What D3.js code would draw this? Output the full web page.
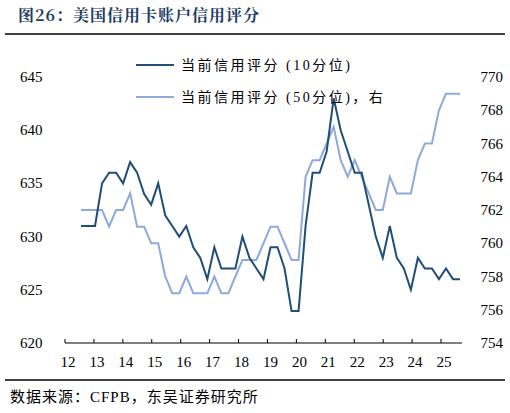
<!DOCTYPE html>
<html><head><meta charset="utf-8">
<script src="https://cdn.jsdelivr.net/npm/d3@7"></script>
<style>body{margin:0;background:#fff}</style>
</head><body>
<svg id="chart" width="510" height="413"></svg>
<script>
// 当前信用评分 (10分位), left axis
var p10 = [631,631,631,635,636,636,635,637,636,634,633,635,632,631,630,631,629,628,626,629,627,627,627,630,628,627,626,629,
  629,627,623,623,631,636,636,638,643,640,638,636,636,633,630,628,631,628,627,625,628,627,627,626,627,626,626];
// 当前信用评分 (50分位), right axis
var p50 = [762,762,762,762,761,762,762,763,761,761,760,760,758,757,757,758,757,757,757,758,757,757,758,759,759,759,760,761,
  761,760,759,759,764,765,765,766,767,765,764,765,764,763,762,762,764,763,763,763,765,766,766,768,769,769,769];
var years = [12,13,14,15,16,17,18,19,20,21,22,23,24,25];
var leftTicks = [620,625,630,635,640,645];
var rightTicks = [754,756,758,760,762,764,766,768,770];

var svg = d3.select("#chart");
var font = "'Liberation Serif', 'Noto Sans CJK SC', serif";
var cjk = "'Noto Serif CJK SC', 'Noto Sans CJK SC', serif";

svg.append("text").attr("x", 18).attr("y", 21)
  .attr("font-family", cjk).attr("font-weight", "bold").attr("font-size", 16).attr("fill", "#1f3c64")
  .attr("letter-spacing", 1).text("图26：美国信用卡账户信用评分");
svg.append("line").attr("x1", 5).attr("x2", 505).attr("y1", 34).attr("y2", 34)
  .attr("stroke", "#000").attr("stroke-width", 1.5);

var x = d3.scaleLinear().domain([0, p10.length - 1]).range([81, 460]);
var xYear = d3.scaleLinear().domain([12, 25]).range([65, 441]);
var yL = d3.scaleLinear().domain([620, 645]).range([343, 77]);
var yR = d3.scaleLinear().domain([754, 770]).range([343, 77]);

// x axis
svg.append("line").attr("x1", 65).attr("x2", 462).attr("y1", 343).attr("y2", 343).attr("stroke", "#000");
years.forEach(function(yr){
  svg.append("line").attr("x1", xYear(yr)).attr("x2", xYear(yr)).attr("y1", 343).attr("y2", 339).attr("stroke", "#000");
  svg.append("text").attr("x", xYear(yr) + 3).attr("y", 367).attr("text-anchor", "middle")
    .attr("font-family", font).attr("font-size", 15).text(yr);
});
leftTicks.forEach(function(t){
  svg.append("text").attr("x", 20).attr("y", yL(t) + 5).attr("font-family", font).attr("font-size", 15).text(t);
});
rightTicks.forEach(function(t){
  svg.append("text").attr("x", 503).attr("y", yR(t) + 5).attr("text-anchor", "end")
    .attr("font-family", font).attr("font-size", 15).text(t);
});

var lineL = d3.line().x(function(d, i){ return x(i); }).y(function(d){ return yL(d); });
var lineR = d3.line().x(function(d, i){ return x(i); }).y(function(d){ return yR(d); });
svg.append("path").attr("d", lineR(p50)).attr("fill", "none").attr("stroke", "#8eaadb").attr("stroke-width", 2);
svg.append("path").attr("d", lineL(p10)).attr("fill", "none").attr("stroke", "#1f4e79").attr("stroke-width", 2);

// legend
var legend = [["当前信用评分 (10分位)", "#1f4e79"], ["当前信用评分 (50分位)，右", "#8eaadb"]];
legend.forEach(function(l, i){
  var ly = 65 + i * 32;
  svg.append("line").attr("x1", 136).attr("x2", 174).attr("y1", ly).attr("y2", ly)
    .attr("stroke", l[1]).attr("stroke-width", 2);
  svg.append("text").attr("x", 181).attr("y", ly + 5).attr("font-family", font).attr("font-size", 14)
    .attr("letter-spacing", 2.5).text(l[0]);
});

svg.append("line").attr("x1", 5).attr("x2", 505).attr("y1", 380).attr("y2", 380)
  .attr("stroke", "#000").attr("stroke-width", 1.5);
svg.append("text").attr("x", 10).attr("y", 402).attr("font-family", font).attr("font-size", 15)
  .attr("letter-spacing", 1).text("数据来源：CFPB，东吴证券研究所");
</script>
</body></html>
